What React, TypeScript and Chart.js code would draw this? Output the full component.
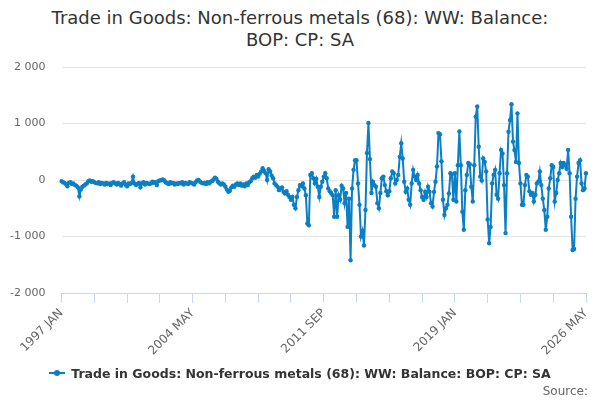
import React, { useEffect, useRef } from 'react';
import Chart from 'chart.js/auto';

const START_YEAR = 1997;
const monthNames = ['JAN', 'FEB', 'MAR', 'APR', 'MAY', 'JUN', 'JUL', 'AUG', 'SEP', 'OCT', 'NOV', 'DEC'];
const tickLabels = ['1997 JAN', '2004 MAY', '2011 SEP', '2019 JAN', '2026 MAY'];

// monthly balance, £ million
const balance1997to2001 = [
  -20, -40, -50, -70, -110, -50, -40, -70, -60, -90, -100, -130,
  -290, -170, -120, -100, -80, -60, -20, -10, -30, -20, -40, -50,
  -60, -40, -70, -50, -60, -80, -50, -70, -60, -90, -50, -40,
  -60, -80, -50, -70, -100, -60, -40, -80, -110, -60, -70, -50,
  60, -60, -90, -70, -50, -130, -60, -40, -80, -50, -60, -70,
];
const balance2002to2007 = [
  -60, -30, -50, -40, -90, -20, -10, 0, 10, -10, -40, -60,
  -70, -40, -60, -50, -80, -60, -70, -50, -60, -40, -80, -50,
  -60, -70, -40, -50, -60, -80, -40, -10, 0, -30, -50, -60,
  -50, -70, -40, -60, -30, -20, 10, 40, 20, -30, -60, -80,
  -60, -80, -120, -170, -210, -190, -130, -100, -120, -80, -60, -90,
  -60, -100, -80, -110, -60, -90, -40, -20, 30, 60, 40, 90,
];
const balance2008to2011 = [
  60, 110, 150, 210, 160, 120, 0, 190, 150, 80, 30, -60,
  -90, -120, -180, -150, -130, -210, -240, -200, -260, -300, -350, -300,
  -440, -500, -300, -180, -90, -110, -60, -150, -270, -770, -800, 90,
  120, 30, -60, 20, -120, -300, -120, -30, 60, 120, 30, -150,
];
const balance2012to2015 = [
  -200, -230, -270, -650, -180, -650, -270, -350, -100, -150, -410, -230,
  -830, -330, -1420, -150, 180, 350, 350, -60, -440, -1000, -900, -1160,
  -530, 480, 1010, 370, -230, -30, -90, -120, -410, -500, -230, 30,
  60, -90, -200, -270, -200, 30, 150, 120, -60, 0, 90, 410,
];
const balance2016to2019 = [
  650, 380, -30, -210, -150, -350, -440, -60, 180, 60, 0, 90,
  -60, -180, -300, -350, -210, -300, -120, -210, -410, -470, -210, -30,
  240, 830, 810, 330, -350, -620, -500, -440, -240, 120, 100, -350,
  120, -380, 260, 860, 260, -560, -880, -180, 90, 300, 280, -120,
];
const balance2020to2023 = [
  -380, 260, 1120, 1300, 590, 60, -10, 380, 320, 150, -700, -1120,
  -830, -60, 90, 180, -260, -330, 120, 530, 470, -90, -940, 120,
  855, 1060, 1340, 680, 530, 320, 1180, 300, -60, -440, -440, -90,
  90, 60, -200, -260, -230, -380, -260, -60, -30, 150, -90, -330,
];
const balance2024to2026 = [
  -530, -880, -650, -150, 30, 260, 230, -380, -230, 0, 120, 300,
  230, 300, 260, 200, 530, 120, -650, -1240, -1220, -330, 60, 300,
  350, -60, -180, -150, 120,
];

const balance = [
  ...balance1997to2001,
  ...balance2002to2007,
  ...balance2008to2011,
  ...balance2012to2015,
  ...balance2016to2019,
  ...balance2020to2023,
  ...balance2024to2026,
];

const months = balance.map((_, i) => `${START_YEAR + Math.floor(i / 12)} ${monthNames[i % 12]}`);

const SERIES = 'Trade in Goods: Non-ferrous metals (68): WW: Balance: BOP: CP: SA';
const LINE_COLOR = '#0b7fc4';
const FONT = "'DejaVu Sans', sans-serif";

const withSpaces = (v: number) => {
  const s = String(Math.abs(v)).replace(/\B(?=(\d{3})+(?!\d))/g, ' ');
  return v < 0 ? '-' + s : s;
};

const TradeChart: React.FC = () => {
  const canvasRef = useRef<HTMLCanvasElement>(null);

  useEffect(() => {
    if (!canvasRef.current) return;
    const chart = new Chart(canvasRef.current, {
      type: 'line',
      data: {
        labels: months,
        datasets: [
          {
            label: SERIES,
            data: balance,
            borderColor: LINE_COLOR,
            backgroundColor: LINE_COLOR,
            borderWidth: 2,
            pointRadius: 2.2,
            pointBorderWidth: 0,
            pointHoverRadius: 2.2,
            tension: 0,
          },
        ],
      },
      options: {
        animation: false,
        responsive: false,
        layout: { padding: { top: 67, right: 14, bottom: 0, left: 0 } },
        plugins: {
          legend: { display: false },
          title: { display: false },
          tooltip: { enabled: false },
        },
        scales: {
          x: {
            type: 'category',
            grid: { drawOnChartArea: false, drawTicks: true, tickLength: 10, color: '#ccd6eb' },
            border: { display: true, color: '#ccd6eb' },
            afterBuildTicks: (scale: any) => {
              scale.ticks = scale.ticks.filter((t: any) => t.value % 22 === 0);
            },
            afterFit: (scale: any) => {
              scale.height = 107;
            },
            ticks: {
              autoSkip: false,
              maxRotation: 45,
              minRotation: 45,
              padding: 3,
              color: '#666666',
              font: { family: FONT, size: 12 },
              callback: (value: any) => {
                const label = months[Number(value)];
                return tickLabels.includes(label) ? label : '';
              },
            },
          },
          y: {
            min: -2000,
            max: 2000,
            afterFit: (scale: any) => {
              scale.width = 61.5;
            },
            grid: { color: '#e6e6e6', drawTicks: false },
            border: { display: false },
            ticks: {
              stepSize: 1000,
              padding: 16,
              color: '#666666',
              font: { family: FONT, size: 11 },
              callback: (v: any) => withSpaces(Number(v)),
            },
          },
        },
      },
    });
    return () => chart.destroy();
  }, []);

  return (
    <div style={{ position: 'absolute', left: 0, top: 0, width: 600, height: 400, background: '#fff', fontFamily: FONT }}>
      <div
        style={{
          position: 'absolute',
          top: 7,
          left: 0,
          width: 600,
          textAlign: 'center',
          fontSize: 18,
          lineHeight: '22px',
          color: '#333333',
        }}
      >
        Trade in Goods: Non-ferrous metals (68): WW: Balance:
        <br />
        BOP: CP: SA
      </div>
      <canvas ref={canvasRef} width={600} height={400} style={{ position: 'absolute', left: 0, top: 0 }} />
      <div
        style={{
          position: 'absolute',
          top: 365,
          left: 0,
          width: 600,
          display: 'flex',
          justifyContent: 'center',
          alignItems: 'center',
          fontSize: 12.5,
          fontWeight: 'bold',
          color: '#333333',
        }}
      >
        <span style={{ position: 'relative', display: 'inline-block', width: 16, height: 16, marginRight: 6 }}>
          <span style={{ position: 'absolute', left: 0, top: 7, width: 16, height: 2, background: LINE_COLOR }} />
          <span
            style={{ position: 'absolute', left: 5, top: 5, width: 6, height: 6, borderRadius: 3, background: LINE_COLOR }}
          />
        </span>
        {SERIES}
      </div>
      <div style={{ position: 'absolute', top: 384, right: 12, fontSize: 12, color: '#666666' }}>Source:</div>
    </div>
  );
};

export default function App() {
  return <TradeChart />;
}
